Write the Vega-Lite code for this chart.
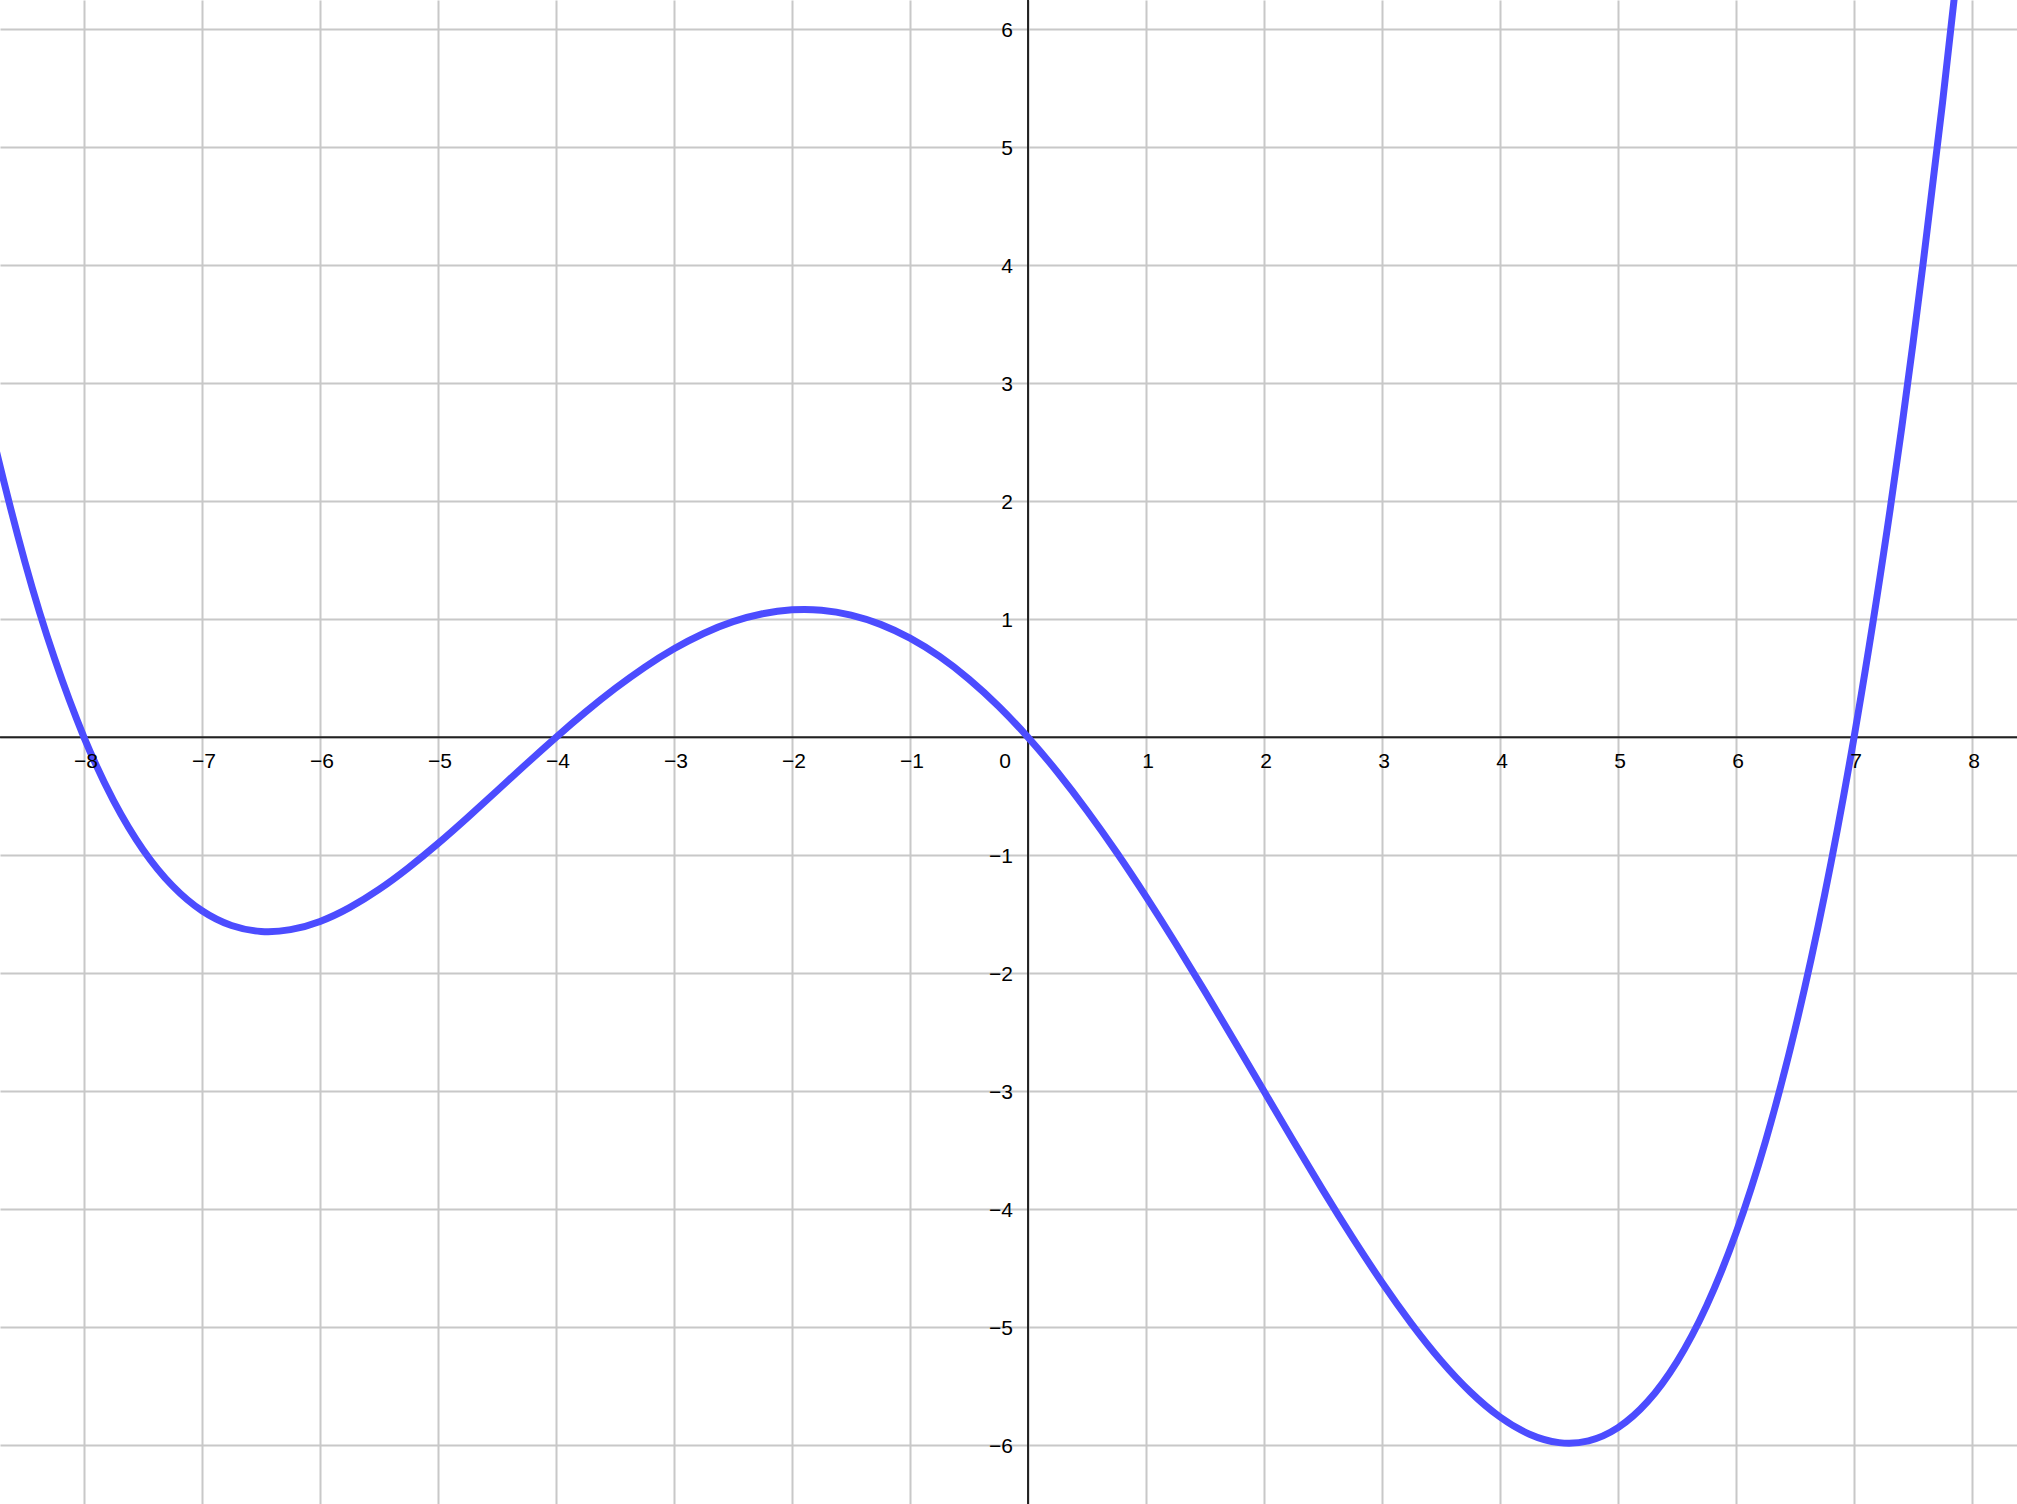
{
  "$schema": "https://vega.github.io/schema/vega-lite/v6.json",
  "width": 2017,
  "height": 1504,
  "autosize": {"type": "none"},
  "padding": 0,
  "background": "white",
  "config": {"view": {"stroke": null}},
  "datasets": {
    "curve": [
      {"x": -8.875, "y": 3.005}, {"x": -8.75, "y": 2.455}, {"x": -8.5, "y": 1.482}, {"x": -8.25, "y": 0.668}, {"x": -8, "y": 0},
      {"x": -7.75, "y": -0.536}, {"x": -7.5, "y": -0.952}, {"x": -7.25, "y": -1.259}, {"x": -7, "y": -1.47},
      {"x": -6.75, "y": -1.595}, {"x": -6.5, "y": -1.645}, {"x": -6.25, "y": -1.630}, {"x": -6, "y": -1.56},
      {"x": -5.75, "y": -1.443}, {"x": -5.5, "y": -1.289}, {"x": -5.25, "y": -1.105}, {"x": -5, "y": -0.9},
      {"x": -4.75, "y": -0.680}, {"x": -4.5, "y": -0.453}, {"x": -4.25, "y": -0.224}, {"x": -4, "y": 0},
      {"x": -3.75, "y": 0.214}, {"x": -3.5, "y": 0.413}, {"x": -3.25, "y": 0.593}, {"x": -3, "y": 0.75},
      {"x": -2.75, "y": 0.880}, {"x": -2.5, "y": 0.980}, {"x": -2.25, "y": 1.047}, {"x": -2, "y": 1.08},
      {"x": -1.75, "y": 1.077}, {"x": -1.5, "y": 1.036}, {"x": -1.25, "y": 0.957}, {"x": -1, "y": 0.84},
      {"x": -0.75, "y": 0.685}, {"x": -0.5, "y": 0.492}, {"x": -0.25, "y": 0.263}, {"x": 0, "y": 0},
      {"x": 0.25, "y": -0.296}, {"x": 0.5, "y": -0.622}, {"x": 0.75, "y": -0.974}, {"x": 1, "y": -1.35},
      {"x": 1.25, "y": -1.745}, {"x": 1.5, "y": -2.155}, {"x": 1.75, "y": -2.575}, {"x": 2, "y": -3.0},
      {"x": 2.25, "y": -3.423}, {"x": 2.5, "y": -3.839}, {"x": 2.75, "y": -4.240}, {"x": 3, "y": -4.62},
      {"x": 3.25, "y": -4.970}, {"x": 3.5, "y": -5.283}, {"x": 3.75, "y": -5.549}, {"x": 4, "y": -5.76},
      {"x": 4.25, "y": -5.906}, {"x": 4.5, "y": -5.977}, {"x": 4.75, "y": -5.962}, {"x": 5, "y": -5.85},
      {"x": 5.25, "y": -5.630}, {"x": 5.5, "y": -5.290}, {"x": 5.75, "y": -4.818}, {"x": 6, "y": -4.2},
      {"x": 6.25, "y": -3.423}, {"x": 6.5, "y": -2.474}, {"x": 6.75, "y": -1.338}, {"x": 7, "y": 0},
      {"x": 7.25, "y": 1.555}, {"x": 7.5, "y": 3.342}, {"x": 7.75, "y": 5.378}, {"x": 7.875, "y": 6.495}
    ],
    "xlabels": [
      {"v": -8, "t": "−8"}, {"v": -7, "t": "−7"}, {"v": -6, "t": "−6"}, {"v": -5, "t": "−5"},
      {"v": -4, "t": "−4"}, {"v": -3, "t": "−3"}, {"v": -2, "t": "−2"}, {"v": -1, "t": "−1"},
      {"v": 1, "t": "1"}, {"v": 2, "t": "2"}, {"v": 3, "t": "3"}, {"v": 4, "t": "4"},
      {"v": 5, "t": "5"}, {"v": 6, "t": "6"}, {"v": 7, "t": "7"}, {"v": 8, "t": "8"}
    ],
    "ylabels": [
      {"v": 6, "t": "6"}, {"v": 5, "t": "5"}, {"v": 4, "t": "4"}, {"v": 3, "t": "3"},
      {"v": 2, "t": "2"}, {"v": 1, "t": "1"}, {"v": -1, "t": "−1"}, {"v": -2, "t": "−2"},
      {"v": -3, "t": "−3"}, {"v": -4, "t": "−4"}, {"v": -5, "t": "−5"}, {"v": -6, "t": "−6"}
    ]
  },
  "layer": [
    {
      "data": {"name": "curve"},
      "mark": {"type": "line", "color": "#4c4cff", "strokeWidth": 7, "interpolate": "natural", "clip": true, "opacity": 0},
      "encoding": {
        "x": {"field": "x", "type": "quantitative",
              "scale": {"domain": [-8.712, 8.381], "nice": false, "zero": false},
              "axis": {"title": null, "values": [-8,-7,-6,-5,-4,-3,-2,-1,0,1,2,3,4,5,6,7,8], "grid": true, "gridColor": "#c8c8c8", "gridWidth": 2, "labels": false, "ticks": false, "domain": false, "zindex": 0}},
        "y": {"field": "y", "type": "quantitative",
              "scale": {"domain": [-6.497, 6.248], "nice": false, "zero": false},
              "axis": {"title": null, "values": [-6,-5,-4,-3,-2,-1,0,1,2,3,4,5,6], "grid": true, "gridColor": "#c8c8c8", "gridWidth": 2, "labels": false, "ticks": false, "domain": false, "zindex": 0}},
        "order": {"field": "x", "type": "quantitative"}
      }
    },
    {
      "data": {"values": [{"a": 0}]},
      "mark": {"type": "rule", "color": "#222222", "strokeWidth": 2},
      "encoding": {"y": {"datum": 0, "type": "quantitative"}}
    },
    {
      "data": {"values": [{"a": 0}]},
      "mark": {"type": "rule", "color": "#222222", "strokeWidth": 2},
      "encoding": {"x": {"datum": 0, "type": "quantitative"}}
    },
    {
      "data": {"name": "curve"},
      "mark": {"type": "line", "color": "#4c4cff", "strokeWidth": 7, "interpolate": "natural", "clip": true},
      "encoding": {
        "x": {"field": "x", "type": "quantitative"},
        "y": {"field": "y", "type": "quantitative"},
        "order": {"field": "x", "type": "quantitative"}
      }
    },
    {
      "data": {"name": "xlabels"},
      "mark": {"type": "text", "font": "Liberation Sans", "fontSize": 21, "color": "black", "align": "center", "baseline": "middle", "dy": 25, "dx": 2},
      "encoding": {
        "x": {"field": "v", "type": "quantitative"},
        "y": {"datum": 0, "type": "quantitative"},
        "text": {"field": "t"}
      }
    },
    {
      "data": {"values": [{"t": "0"}]},
      "mark": {"type": "text", "font": "Liberation Sans", "fontSize": 21, "color": "black", "align": "center", "baseline": "middle", "dy": 25, "dx": -23},
      "encoding": {
        "x": {"datum": 0, "type": "quantitative"},
        "y": {"datum": 0, "type": "quantitative"},
        "text": {"field": "t"}
      }
    },
    {
      "data": {"name": "ylabels"},
      "mark": {"type": "text", "font": "Liberation Sans", "fontSize": 21, "color": "black", "align": "right", "baseline": "middle", "dx": -15, "dy": 2},
      "encoding": {
        "x": {"datum": 0, "type": "quantitative"},
        "y": {"field": "v", "type": "quantitative"},
        "text": {"field": "t"}
      }
    }
  ]
}
